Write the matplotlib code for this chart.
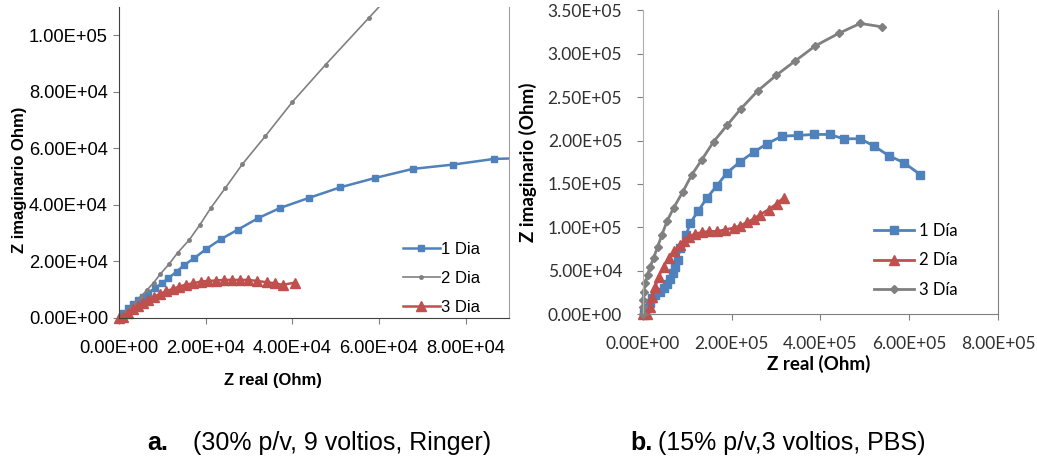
#!/usr/bin/env python
# -*- coding:utf-8 -*-
"""
Nyquist plots (Z real vs Z imaginario), two panels:
a. 30% p/v, 9 voltios, Ringer
b. 15% p/v, 3 voltios, PBS
"""

import matplotlib
matplotlib.use("Agg")
from matplotlib import pyplot as plt
from matplotlib.ticker import FuncFormatter, MultipleLocator

# --- Panel a (Ringer) ---
a_dia1_x = [80, 1000, 2150, 3310, 4460, 5610, 6770, 8300, 9840, 11380, 13300,
            15070, 17380, 20070, 23530, 27370, 32140, 37140, 43750, 51060,
            59130, 67740, 77120, 86580, 95000]
a_dia1_y = [0, 1660, 3430, 4960, 6380, 7560, 8980, 10520, 12290, 14070, 16430,
            18790, 21160, 24350, 27900, 31200, 35340, 38890, 42430, 46220,
            49530, 52720, 54260, 56270, 56600]

a_dia2_x = [0, 800, 2000, 3500, 5000, 6500, 8000, 9500, 11500, 13500, 16220,
            18610, 21220, 24530, 28450, 33750, 39980, 47680, 57740, 63000]
a_dia2_y = [0, 1000, 2800, 5000, 7500, 10000, 12500, 15500, 19000, 23000,
            27660, 32860, 39000, 45980, 54370, 64300, 76360, 89600, 106270,
            115000]

a_dia3_x = [0, 1000, 2150, 3310, 4460, 5610, 6770, 8070, 9460, 10840, 12380,
            13920, 15460, 17150, 18840, 20610, 22380, 24220, 25990, 27910,
            29830, 31760, 34070, 35990, 37760, 40600]
a_dia3_y = [0, 470, 1890, 3070, 4260, 5440, 6500, 7560, 8510, 9460, 10280,
            11110, 11820, 12290, 12880, 13120, 13240, 13480, 13480, 13480,
            13480, 13120, 12650, 12290, 11700, 12520]

# --- Panel b (PBS) ---
b_dia1_x = [1400, 9000, 14900, 20300, 27700, 37400, 46400, 54100, 61500, 67600,
            72800, 78000, 84100, 97600, 106600, 123900, 144200, 166800, 189300,
            217700, 249200, 279400, 313200, 348400, 384500, 420500, 452100,
            489700, 521200, 553500, 588800, 624900]
b_dia1_y = [1150, 6930, 13400, 18480, 22290, 26100, 30020, 34640, 40420, 47340,
            54970, 62700, 76210, 91570, 105080, 118480, 133950, 148150, 162820,
            175060, 186600, 196300, 205080, 205890, 207040, 207040, 202080,
            202080, 193530, 182800, 174360, 160850]

b_dia2_x = [0, 9000, 16500, 20300, 27700, 35200, 46400, 57700, 69000, 84100,
            91500, 102800, 117900, 133000, 147800, 166800, 185500, 204200,
            219300, 234400, 249200, 264300, 283000, 302000, 316900]
b_dia2_y = [0, 0, 8800, 20300, 31900, 43400, 55000, 64700, 72300, 80000,
            84500, 88910, 92720, 94230, 95380, 95380, 97340, 99310, 101960,
            105770, 109700, 114660, 120440, 127370, 133950]

b_dia3_x = [0, 0, 500, 1400, 5200, 10400, 16500, 23900, 32900, 42800, 54100,
            69000, 89200, 110400, 133000, 159100, 189300, 220800, 258300,
            300400, 343200, 388300, 440800, 489700, 538600]
b_dia3_y = [0, 8000, 16500, 26100, 35800, 45380, 54970, 64670, 77370, 91570,
            106930, 122400, 140420, 160850, 178180, 198610, 217440, 236720,
            257040, 275170, 291690, 309010, 323330, 334870, 330950]

blue = "#4F81BD"
red = "#C0504D"
grey = "#808080"

sci = FuncFormatter(lambda v, pos: "%.2E" % v)

fig = plt.figure(figsize=(10.37, 4.59), dpi=100)

# ---------------- panel a ----------------
fA = "Liberation Sans"
ax1 = fig.add_axes([0.1148, 0.3072, 0.376, 0.6776])
ax1.plot(a_dia1_x, a_dia1_y, color=blue, lw=1.8, marker="s", ms=5,
         label="1 Dia")
ax1.plot(a_dia2_x, a_dia2_y, color=grey, lw=1.2, marker="o", ms=2.5,
         label="2 Dia")
ax1.plot(a_dia3_x, a_dia3_y, color=red, lw=1.8, marker="^", ms=6.5,
         label="3 Dia", clip_on=False)
ax1.set_xlim(0, 90000)
ax1.set_ylim(0, 110000)
ax1.xaxis.set_major_locator(MultipleLocator(20000))
ax1.yaxis.set_major_locator(MultipleLocator(20000))
ax1.xaxis.set_major_formatter(sci)
ax1.yaxis.set_major_formatter(sci)
ax1.spines["top"].set_visible(False)
ax1.spines["right"].set_color("#A0A0A0")
ax1.spines["left"].set_color("#404040")
ax1.spines["bottom"].set_color("#404040")
ax1.tick_params(axis="x", direction="out", length=4, pad=12, color="#808080")
ax1.tick_params(axis="y", direction="out", length=4, pad=4, color="#808080")
for t in ax1.get_xticklabels() + ax1.get_yticklabels():
    t.set_fontfamily(fA)
    t.set_fontsize(13.2)
ax1.set_xlabel("Z real (Ohm)", fontfamily=fA, fontsize=12, weight="bold")
ax1.set_ylabel("Z imaginario Ohm)", fontfamily=fA, fontsize=12, weight="bold")
ax1.xaxis.set_label_coords(0.395, -0.178)
ax1.yaxis.set_label_coords(-0.235, 0.444)
ax1.legend(loc="upper left", bbox_to_anchor=(0.728, 0.245), frameon=False,
           prop={"family": fA, "size": 12}, handlelength=2.2,
           handletextpad=0.1, labelspacing=0.85, borderpad=0, borderaxespad=0)

# ---------------- panel b ----------------
fB = "Lato"
ax2 = fig.add_axes([0.620, 0.3153, 0.3423, 0.6623])
ax2.plot(b_dia1_x, b_dia1_y, color=blue, lw=2.0, marker="s", ms=5.5,
         label="1 Día", clip_on=False)
ax2.plot(b_dia2_x, b_dia2_y, color=red, lw=2.0, marker="^", ms=7,
         label="2 Día", clip_on=False)
ax2.plot(b_dia3_x, b_dia3_y, color=grey, lw=2.0, marker="D", ms=4,
         label="3 Día", clip_on=False)
ax2.set_xlim(0, 800000)
ax2.set_ylim(0, 350000)
ax2.xaxis.set_major_locator(MultipleLocator(200000))
ax2.yaxis.set_major_locator(MultipleLocator(50000))
ax2.xaxis.set_major_formatter(sci)
ax2.yaxis.set_major_formatter(sci)
ax2.spines["top"].set_visible(False)
ax2.spines["right"].set_color("#808080")
ax2.spines["left"].set_color("#B0B0B0")
ax2.spines["bottom"].set_color("#808080")
ax2.tick_params(axis="x", direction="out", length=4, pad=12, color="#808080",
                labelcolor="#303030")
ax2.tick_params(axis="y", direction="out", length=4, pad=11, color="#808080",
                labelcolor="#303030")
for t in ax2.get_xticklabels() + ax2.get_yticklabels():
    t.set_fontfamily(fB)
    t.set_fontsize(12.5)
ax2.set_xlabel("Z real (Ohm)", fontfamily=fB, fontsize=13.5, weight="bold")
ax2.set_ylabel("Z imaginario (Ohm)", fontfamily=fB, fontsize=13.5, weight="bold")
ax2.xaxis.set_label_coords(0.496, -0.135)
ax2.yaxis.set_label_coords(-0.299, 0.501)
ax2.legend(loc="upper left", bbox_to_anchor=(0.652, 0.30), frameon=False,
           prop={"family": fB, "size": 12}, handlelength=2.4,
           handletextpad=0.25, labelspacing=0.8, borderpad=0, borderaxespad=0)

# ---------------- captions ----------------
fC = "Liberation Sans"
fig.text(147 / 1037, 1 - 443 / 459, "a.", family=fC, fontsize=18,
         weight="bold", va="center", ha="left")
fig.text(193 / 1037, 1 - 443 / 459, "(30% p/v, 9 voltios, Ringer)", family=fC,
         fontsize=18, va="center", ha="left")
fig.text(630 / 1037, 1 - 443 / 459, "b.", family=fC, fontsize=18,
         weight="bold", va="center", ha="left")
fig.text(658 / 1037, 1 - 443 / 459, "(15% p/v,3 voltios, PBS)", family=fC,
         fontsize=18, va="center", ha="left")

plt.savefig("out.png", dpi=100)
